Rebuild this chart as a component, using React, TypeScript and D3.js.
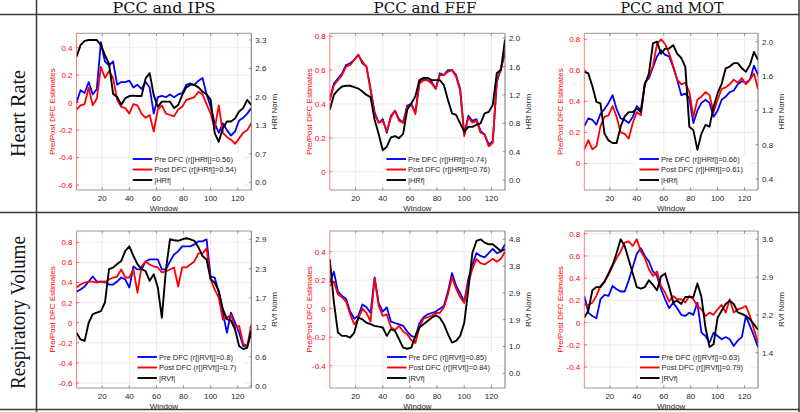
import React from 'react';
import * as d3 from 'd3';

// ---------------- data ----------------
const windows = [1, 4, 7, 10, 13, 16, 19, 22, 25, 28, 31, 34, 37, 40, 43, 46, 49, 52, 55, 58, 61, 64, 67, 70, 73, 76, 79, 82, 85, 88, 91, 94, 97, 100, 103, 106, 109, 112, 115, 118, 121, 124, 127, 130];

const columnTitles = ['PCC and IPS', 'PCC and FEF', 'PCC and MOT'];
const rowTitles = ['Heart Rate', 'Respiratory Volume'];
const xTicks = [20, 40, 60, 80, 100, 120];

// Heart rate / IPS
const hrIpsPre = [0.00, 0.09, 0.07, 0.15, 0.06, 0.10, 0.44, 0.30, 0.27, 0.30, 0.13, 0.15, 0.15, 0.16, 0.11, 0.13, 0.10, 0.15, 0.11, -0.08, 0.04, 0.05, 0.04, 0.06, 0.04, 0.06, 0.07, 0.13, 0.14, 0.13, 0.16, 0.18, 0.06, -0.03, -0.15, -0.22, -0.15, -0.20, -0.24, -0.21, -0.13, -0.11, -0.08, -0.04];
const hrIpsPost = [-0.05, -0.02, -0.01, 0.11, -0.02, 0.03, 0.26, 0.18, 0.23, 0.18, 0.02, -0.03, -0.04, -0.08, -0.01, -0.02, -0.08, -0.11, -0.09, -0.21, -0.05, -0.02, -0.08, -0.09, -0.10, -0.05, -0.03, 0.02, 0.03, 0.04, 0.08, 0.06, -0.01, -0.08, -0.19, -0.02, -0.22, -0.25, -0.27, -0.30, -0.26, -0.22, -0.20, -0.15];
const hrIpsRef = [2.91, 3.18, 3.28, 3.30, 3.30, 3.30, 3.18, 2.95, 2.75, 2.05, 1.98, 1.80, 1.95, 2.00, 2.01, 2.00, 2.00, 2.41, 2.53, 2.02, 1.75, 1.87, 1.87, 1.87, 1.72, 1.79, 2.02, 2.20, 2.26, 2.26, 2.20, 2.10, 2.04, 1.91, 1.14, 0.94, 1.25, 1.41, 1.41, 1.48, 1.64, 1.72, 1.91, 1.79];

// Heart rate / FEF
const hrFefPre = [0.43, 0.52, 0.55, 0.58, 0.63, 0.64, 0.66, 0.69, 0.64, 0.62, 0.49, 0.35, 0.29, 0.31, 0.23, 0.33, 0.36, 0.31, 0.29, 0.39, 0.40, 0.35, 0.53, 0.55, 0.54, 0.53, 0.49, 0.58, 0.57, 0.60, 0.60, 0.57, 0.49, 0.22, 0.33, 0.30, 0.31, 0.24, 0.22, 0.16, 0.18, 0.53, 0.61, 0.70];
const hrFefPost = [0.42, 0.51, 0.54, 0.57, 0.62, 0.63, 0.66, 0.69, 0.65, 0.62, 0.48, 0.34, 0.29, 0.30, 0.24, 0.32, 0.36, 0.30, 0.29, 0.38, 0.40, 0.34, 0.52, 0.54, 0.54, 0.52, 0.49, 0.57, 0.57, 0.59, 0.60, 0.56, 0.48, 0.21, 0.32, 0.29, 0.30, 0.23, 0.22, 0.15, 0.17, 0.55, 0.60, 0.72];
const hrFefRef = [0.99, 1.20, 1.27, 1.32, 1.33, 1.33, 1.31, 1.29, 1.25, 1.20, 1.17, 0.85, 0.65, 0.42, 0.47, 0.60, 0.62, 0.59, 0.65, 0.99, 1.08, 1.18, 1.41, 1.44, 1.44, 1.41, 1.41, 1.41, 1.34, 1.13, 0.94, 0.92, 0.80, 0.68, 0.75, 0.75, 0.78, 0.80, 0.94, 0.96, 1.06, 1.51, 1.55, 1.98];

// Heart rate / MOT
const hrMotPre = [0.24, 0.29, 0.28, 0.25, 0.32, 0.35, 0.39, 0.44, 0.35, 0.29, 0.28, 0.26, 0.30, 0.37, 0.34, 0.52, 0.55, 0.62, 0.69, 0.73, 0.70, 0.69, 0.62, 0.54, 0.44, 0.45, 0.42, 0.26, 0.34, 0.39, 0.41, 0.39, 0.30, 0.34, 0.41, 0.43, 0.46, 0.47, 0.51, 0.53, 0.52, 0.54, 0.63, 0.57];
const hrMotPost = [0.09, 0.15, 0.09, 0.11, 0.24, 0.30, 0.31, 0.37, 0.30, 0.20, 0.19, 0.16, 0.26, 0.33, 0.31, 0.52, 0.56, 0.63, 0.77, 0.80, 0.77, 0.71, 0.63, 0.54, 0.51, 0.52, 0.46, 0.30, 0.41, 0.43, 0.46, 0.44, 0.33, 0.41, 0.48, 0.49, 0.51, 0.54, 0.52, 0.55, 0.51, 0.54, 0.58, 0.48];
const hrMotRef = [1.65, 1.63, 1.48, 1.30, 1.28, 0.93, 0.85, 0.82, 0.82, 1.01, 1.13, 1.18, 1.18, 1.22, 1.18, 1.50, 1.63, 1.98, 2.00, 1.86, 1.92, 1.92, 1.96, 1.86, 1.81, 1.71, 1.01, 0.97, 0.74, 0.93, 1.03, 1.01, 1.24, 1.40, 1.51, 1.69, 1.71, 1.75, 1.75, 1.69, 1.65, 1.73, 1.88, 1.79];

// Respiratory volume / IPS
const rvIpsPre = [0.31, 0.33, 0.36, 0.41, 0.46, 0.41, 0.41, 0.41, 0.38, 0.38, 0.41, 0.45, 0.43, 0.35, 0.56, 0.53, 0.53, 0.61, 0.63, 0.63, 0.63, 0.53, 0.53, 0.61, 0.68, 0.71, 0.76, 0.76, 0.76, 0.78, 0.81, 0.81, 0.83, 0.46, 0.45, 0.30, 0.10, -0.10, 0.10, 0.00, -0.10, -0.23, -0.23, -0.10];
const rvIpsPost = [0.35, 0.38, 0.40, 0.41, 0.41, 0.40, 0.41, 0.40, 0.43, 0.45, 0.46, 0.53, 0.45, 0.45, 0.53, 0.30, 0.56, 0.61, 0.58, 0.56, 0.55, 0.50, 0.51, 0.53, 0.55, 0.36, 0.55, 0.55, 0.58, 0.61, 0.69, 0.69, 0.74, 0.43, 0.33, 0.25, 0.03, 0.05, 0.08, -0.05, -0.03, -0.21, -0.23, -0.02];
const rvIpsRef = [1.05, 0.92, 0.89, 1.25, 1.42, 1.45, 1.48, 1.65, 2.31, 2.34, 2.41, 2.47, 2.67, 2.76, 2.57, 2.41, 2.31, 2.27, 2.08, 2.21, 1.95, 1.35, 2.30, 2.90, 2.88, 2.87, 2.90, 2.92, 2.90, 2.87, 2.74, 2.57, 2.50, 2.11, 2.04, 1.88, 1.52, 1.32, 1.29, 1.12, 0.79, 0.73, 0.76, 1.09];

// Respiratory volume / FEF
const rvFefPre = [0.18, 0.26, 0.12, 0.09, 0.07, -0.02, -0.07, -0.05, 0.03, 0.01, -0.03, 0.22, 0.04, -0.02, 0.01, -0.09, -0.10, -0.11, -0.12, -0.16, -0.19, -0.20, -0.10, -0.06, -0.04, -0.03, -0.02, 0.00, 0.02, 0.12, 0.25, 0.16, 0.11, 0.05, 0.21, 0.31, 0.39, 0.37, 0.36, 0.39, 0.42, 0.39, 0.40, 0.45];
const rvFefPost = [0.16, 0.19, 0.10, 0.08, 0.05, -0.04, -0.11, -0.07, 0.00, -0.03, -0.09, 0.21, 0.02, -0.05, -0.04, -0.13, -0.15, -0.12, -0.16, -0.18, -0.22, -0.24, -0.13, -0.07, -0.06, -0.05, -0.03, -0.03, 0.01, 0.10, 0.22, 0.14, 0.08, 0.04, 0.18, 0.28, 0.35, 0.32, 0.31, 0.33, 0.35, 0.33, 0.35, 0.40];
const rvFefRef = [4.08, 2.55, 1.46, 1.34, 1.34, 1.28, 1.46, 1.99, 1.93, 1.81, 1.76, 1.70, 1.67, 1.64, 1.34, 1.58, 1.52, 1.22, 0.92, 0.88, 0.92, 1.34, 1.64, 1.76, 1.87, 1.99, 2.08, 1.99, 1.76, 1.40, 1.10, 1.16, 1.34, 1.81, 3.01, 4.32, 4.74, 4.80, 4.68, 4.62, 4.62, 4.50, 4.38, 4.44];

// Respiratory volume / MOT
const rvMotPre = [0.24, 0.09, 0.06, 0.04, 0.21, 0.25, 0.24, 0.33, 0.30, 0.28, 0.28, 0.38, 0.50, 0.62, 0.67, 0.60, 0.55, 0.46, 0.42, 0.30, 0.21, 0.13, 0.18, 0.13, 0.07, 0.06, 0.09, 0.07, 0.18, -0.09, -0.12, -0.18, -0.09, -0.12, -0.15, -0.13, -0.15, -0.21, -0.16, -0.13, 0.06, -0.03, -0.12, -0.22];
const rvMotPost = [0.16, 0.16, 0.18, 0.24, 0.33, 0.37, 0.43, 0.51, 0.58, 0.64, 0.72, 0.73, 0.69, 0.75, 0.64, 0.58, 0.48, 0.42, 0.46, 0.33, 0.27, 0.19, 0.24, 0.21, 0.21, 0.18, 0.24, 0.21, 0.15, 0.12, 0.06, 0.09, 0.07, 0.12, 0.16, 0.09, 0.21, 0.09, 0.12, 0.13, 0.15, 0.06, -0.06, -0.18];
const rvMotRef = [2.11, 2.24, 2.63, 2.69, 2.69, 2.79, 2.95, 3.11, 3.34, 3.60, 3.47, 3.21, 2.95, 2.69, 2.66, 2.69, 2.82, 2.73, 2.63, 2.89, 2.95, 2.69, 2.40, 2.43, 2.37, 2.50, 2.50, 2.50, 2.76, 2.50, 1.92, 1.55, 1.60, 2.11, 2.24, 2.37, 2.43, 2.37, 2.21, 2.18, 2.14, 2.08, 1.98, 1.88];

const corrPre = ['0.56', '0.74', '0.66', '0.8', '0.85', '0.63'];
const corrPost = ['0.54', '0.76', '0.61', '0.7', '0.84', '0.79'];
const refNames = ['HRf', 'RVf'];

const leftTicksHrIps = [-0.6, -0.4, -0.2, 0, 0.2, 0.4];
const leftTicksHrFef = [0, 0.2, 0.4, 0.6, 0.8];
const leftTicksHrMot = [0, 0.2, 0.4, 0.6, 0.8];
const leftTicksRvIps = [-0.6, -0.4, -0.2, 0, 0.2, 0.4, 0.6, 0.8];
const leftTicksRvFef = [-0.4, -0.2, 0, 0.2, 0.4];
const leftTicksRvMot = [-0.4, -0.2, 0, 0.2, 0.4, 0.6, 0.8];

const rightTicksHrIps = [0, 0.66, 1.32, 1.98, 2.64, 3.3];
const rightTicksHrFef = [0, 0.4, 0.8, 1.2, 1.6, 2.0];
const rightTicksHrMot = [0.4, 0.8, 1.2, 1.6, 2.0];
const rightTicksRvIps = [0, 0.58, 1.16, 1.74, 2.32, 2.9];
const rightTicksRvFef = [0, 0.96, 1.92, 2.88, 3.84, 4.8];
const rightTicksRvMot = [1.44, 2.16, 2.88, 3.6];

// ---------------- panel options ----------------
const panels = [
  { row: 0, col: 0, pre: hrIpsPre, post: hrIpsPost, ref: hrIpsRef, leftDomain: [-0.636, 0.505], leftTicks: leftTicksHrIps, rightDomain: [-0.179, 3.455], rightTicks: rightTicksHrIps },
  { row: 0, col: 1, pre: hrFefPre, post: hrFefPost, ref: hrFefRef, leftDomain: [-0.108, 0.817], leftTicks: leftTicksHrFef, rightDomain: [-0.141, 2.07], rightTicks: rightTicksHrFef },
  { row: 0, col: 2, pre: hrMotPre, post: hrMotPost, ref: hrMotRef, leftDomain: [-0.172, 0.839], leftTicks: leftTicksHrMot, rightDomain: [0.272, 2.098], rightTicks: rightTicksHrMot },
  { row: 1, col: 0, pre: rvIpsPre, post: rvIpsPost, ref: rvIpsRef, leftDomain: [-0.65, 0.913], leftTicks: leftTicksRvIps, rightDomain: [-0.04, 3.064], rightTicks: rightTicksRvIps },
  { row: 1, col: 1, pre: rvFefPre, post: rvFefPost, ref: rvFefRef, leftDomain: [-0.556, 0.545], leftTicks: leftTicksRvFef, rightDomain: [-0.527, 5.097], rightTicks: rightTicksRvFef },
  { row: 1, col: 2, pre: rvMotPre, post: rvMotPost, ref: rvMotRef, leftDomain: [-0.588, 0.824], leftTicks: leftTicksRvMot, rightDomain: [0.768, 3.758], rightTicks: rightTicksRvMot },
];

// ---------------- layout ----------------
const COLS = [
  { l: 76.5, r: 251.3, title: 164, lab: 24.5 },
  { l: 329.8, r: 505, title: 425, lab: 20.5 },
  { l: 584.3, r: 758, title: 672, lab: 24 },
];
const ROWS = [
  { t: 33.3, b: 190, label: 113.5 },
  { t: 231, b: 388, label: 312.5 },
];

const RED = '#ff0000';
const BLUE = '#0000ff';
const DARK = '#262626';
const SANS = "'Liberation Sans', Arial, Helvetica, sans-serif";
const SERIF = "'Liberation Serif', 'Times New Roman', serif";
const TITLE_SERIF = "'DejaVu Serif', 'Liberation Serif', serif";

let ctx: CanvasRenderingContext2D | null = null;
function textWidth(s: string, size: number) {
  if (!ctx && typeof document !== 'undefined') ctx = document.createElement('canvas').getContext('2d');
  if (!ctx) return s.length * size * 0.5;
  ctx.font = `${size}px 'Liberation Sans'`;
  return ctx.measureText(s).width;
}

const fmtLeft = (v: number) => (Math.abs(v) < 1e-9 ? '0' : v.toFixed(1));
const fmtRight = d3.format('.1f');

function Panel({ p, idx }: { p: any; idx: number }) {
  const col = COLS[p.col];
  const row = ROWS[p.row];
  const x = d3.scaleLinear().domain([1, 130]).range([col.l, col.r]);
  const yL = d3.scaleLinear().domain(p.leftDomain).range([row.b, row.t]);
  const yR = d3.scaleLinear().domain(p.rightDomain).range([row.b, row.t]);
  const lineL = d3.line<number>().x((_, i) => x(windows[i])).y((d) => yL(d));
  const lineR = d3.line<number>().x((_, i) => x(windows[i])).y((d) => yR(d));
  const refName = refNames[p.row];
  const clipId = `clip${idx}`;
  const legendItems = [
    { label: `Pre DFC (r[|${refName}|]=${corrPre[idx]})`, color: BLUE },
    { label: `Post DFC (r[|${refName}|]=${corrPost[idx]})`, color: RED },
    { label: `|${refName}|`, color: '#000' },
  ];
  const fs = 7.5;
  const longest = Math.max(...legendItems.map((d) => textWidth(d.label, fs)));
  const textX = col.r - 15 - longest;
  const lineEnd = textX - 2;
  const lineStart = lineEnd - 19.5;
  const legY = [row.b - 31, row.b - 20.5, row.b - 10];
  const midY = (row.t + row.b) / 2;
  const midX = (col.l + col.r) / 2;

  return (
    <g>
      <defs>
        <clipPath id={clipId}>
          <rect x={col.l} y={row.t} width={col.r - col.l} height={row.b - row.t} />
        </clipPath>
      </defs>
      {/* grid */}
      {xTicks.map((t) => (
        <line key={'gx' + t} x1={x(t)} x2={x(t)} y1={row.t} y2={row.b} stroke="#e3e3e3" strokeWidth={0.7} />
      ))}
      {p.leftTicks.map((t: number) => (
        <line key={'gy' + t} x1={col.l} x2={col.r} y1={yL(t)} y2={yL(t)} stroke="#fcdcdc" strokeWidth={0.7} />
      ))}
      {/* data */}
      <g clipPath={`url(#${clipId})`} fill="none" strokeLinejoin="round">
        <path d={lineL(p.pre) || ''} stroke={BLUE} strokeWidth={1.8} />
        <path d={lineL(p.post) || ''} stroke={RED} strokeWidth={1.8} />
        <path d={lineR(p.ref) || ''} stroke="#000" strokeWidth={1.9} />
      </g>
      {/* box */}
      <line x1={col.l} x2={col.r} y1={row.t} y2={row.t} stroke="#6a6a6a" strokeWidth={0.7} />
      <line x1={col.l} x2={col.r} y1={row.b} y2={row.b} stroke="#6a6a6a" strokeWidth={0.7} />
      <line x1={col.l} x2={col.l} y1={row.t} y2={row.b} stroke="#ff5a5a" strokeWidth={0.8} />
      <line x1={col.r} x2={col.r} y1={row.t} y2={row.b} stroke="#555" strokeWidth={0.8} />
      {/* x ticks */}
      {xTicks.map((t) => (
        <g key={'xt' + t}>
          <line x1={x(t)} x2={x(t)} y1={row.b} y2={row.b - 2.5} stroke="#555" strokeWidth={0.6} />
          <line x1={x(t)} x2={x(t)} y1={row.t} y2={row.t + 2.5} stroke="#555" strokeWidth={0.6} />
          <text x={x(t)} y={row.b + 10.5} textAnchor="middle" fontSize={8} fill={DARK} fontFamily={SANS}>
            {t}
          </text>
        </g>
      ))}
      {/* left ticks */}
      {p.leftTicks.map((t: number) => (
        <g key={'lt' + t}>
          <line x1={col.l} x2={col.l + 2.5} y1={yL(t)} y2={yL(t)} stroke={RED} strokeWidth={0.6} />
          <text x={col.l - 4} y={yL(t) + 2.9} textAnchor="end" fontSize={8} fill={RED} fontFamily={SANS}>
            {fmtLeft(t)}
          </text>
        </g>
      ))}
      {/* right ticks */}
      {p.rightTicks.map((t: number) => (
        <g key={'rt' + t}>
          <line x1={col.r} x2={col.r - 2.5} y1={yR(t)} y2={yR(t)} stroke="#555" strokeWidth={0.6} />
          <text x={col.r + 4} y={yR(t) + 2.9} textAnchor="start" fontSize={8} fill={DARK} fontFamily={SANS}>
            {fmtRight(t)}
          </text>
        </g>
      ))}
      {/* axis labels */}
      <text transform={`translate(${col.l - col.lab},${midY}) rotate(-90)`} textAnchor="middle" dominantBaseline="central" fontSize={8} fill={RED} fontFamily={SANS}>
        Pre/Post DFC Estimates
      </text>
      <text transform={`translate(${col.r + 23},${midY}) rotate(-90)`} textAnchor="middle" dominantBaseline="central" fontSize={8} fill={DARK} fontFamily={SANS}>
        {refName} Norm
      </text>
      <text x={midX} y={row.b + 21} textAnchor="middle" fontSize={8} fill={DARK} fontFamily={SANS}>
        Window
      </text>
      {/* legend */}
      <rect x={lineStart - 3} y={row.b - 36} width={col.r - 8 - (lineStart - 3)} height={32} fill="#fff" />
      {legendItems.map((d, i) => (
        <g key={'lg' + i}>
          <line x1={lineStart} x2={lineEnd} y1={legY[i]} y2={legY[i]} stroke={d.color} strokeWidth={1.9} />
          <text x={textX} y={legY[i]} dominantBaseline="central" fontSize={fs} fill={DARK} fontFamily={SANS}>
            {d.label}
          </text>
        </g>
      ))}
    </g>
  );
}

export default function App() {
  return (
    <svg
      width={800}
      height={412}
      viewBox="0 0 800 412"
      style={{ position: 'absolute', left: 0, top: 0, display: 'block', background: '#fff' }}
    >
      <rect x={0} y={0} width={800} height={412} fill="#fff" />
      {columnTitles.map((t, i) => (
        <text
          key={t}
          x={COLS[i].title}
          y={13.2}
          textAnchor="middle"
          fontSize={14}
          fontFamily={TITLE_SERIF}
          fill="#111"
          textLength={103}
          lengthAdjust="spacingAndGlyphs"
        >
          {t}
        </text>
      ))}
      {rowTitles.map((t, i) => (
        <text
          key={t}
          transform={`translate(25,${ROWS[i].label}) rotate(-90)`}
          textAnchor="middle"
          fontSize={20}
          fontFamily={SERIF}
          fill="#111"
          textLength={i === 1 ? 153 : 87}
          lengthAdjust="spacingAndGlyphs"
        >
          {t}
        </text>
      ))}
      {panels.map((p, i) => (
        <Panel key={i} p={p} idx={i} />
      ))}
      {/* table dividers */}
      <g stroke="#3a3a3a" strokeWidth={1.5}>
        <line x1={0} x2={800} y1={14.5} y2={14.5} />
        <line x1={0} x2={800} y1={212.5} y2={212.5} />
        <line x1={0} x2={800} y1={409.5} y2={409.5} />
        <line x1={36.5} x2={36.5} y1={0} y2={412} />
        <line x1={799} x2={799} y1={0} y2={412} />
      </g>
    </svg>
  );
}
